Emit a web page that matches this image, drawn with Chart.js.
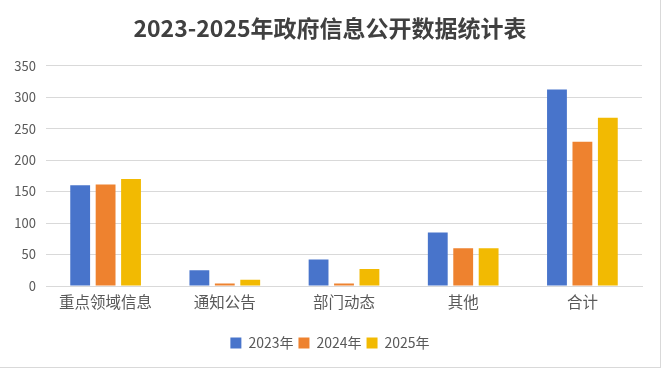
<!DOCTYPE html>
<html>
<head>
<meta charset="utf-8">
<script src="https://cdn.jsdelivr.net/npm/chart.js@4"></script>
<style>
  body { margin: 0; background: #fff; }
  #box { width: 660px; height: 367px; border-right: 1px solid #d9d9d9; border-bottom: 1px solid #d9d9d9; }
</style>
</head>
<body>
<div id="box"><canvas id="chart" width="660" height="367"></canvas></div>
<script>
// 데이터
const categories = ["重点领域信息", "通知公告", "部门动态", "其他", "合计"];
const seriesNames = ["2023年", "2024年", "2025年"];
const values2023 = [160, 25, 42, 85, 312];
const values2024 = [161, 4, 4, 60, 229];
const values2025 = [170, 10, 27, 60, 267];
const colors = ["#4874CB", "#EE822F", "#F2BA02"];

const font = "'Noto Sans CJK SC', 'Microsoft YaHei', sans-serif";

const data = {
  labels: categories,
  datasets: [values2023, values2024, values2025].map((v, i) => ({
    label: seriesNames[i],
    data: v,
    backgroundColor: colors[i],
    categoryPercentage: 0.64,
    barPercentage: 0.78,
  })),
};

const config = {
  type: "bar",
  data: data,
  options: {
    responsive: false,
    animation: false,
    layout: { padding: { left: 0, right: 0, top: 0, bottom: 7 } },
    scales: {
      x: {
        grid: { display: false, drawTicks: false },
        border: { color: "#d9d9d9" },
        ticks: { color: "#595959", font: { family: font, size: 15.5 }, padding: 7 },
        afterFit: (s) => { s.height = 45; },
      },
      y: {
        min: 0,
        max: 350,
        ticks: { stepSize: 50, color: "#595959", font: { family: font, size: 13 }, padding: 10 },
        grid: { color: "#d9d9d9", drawTicks: false },
        border: { display: false },
        afterFit: (s) => { s.width = 46; },
      },
      // 오른쪽 여백용 빈 축
      yRight: {
        position: "right",
        grid: { display: false, drawTicks: false },
        ticks: { display: false },
        border: { display: false },
        afterFit: (s) => { s.width = 18; },
      },
    },
    plugins: {
      title: {
        display: true,
        text: "2023-2025年政府信息公开数据统计表",
        color: "#404040",
        font: { family: font, size: 23, weight: "bold" },
        padding: { top: 14, bottom: 24 },
      },
      legend: {
        position: "bottom",
        labels: {
          boxWidth: 11,
          boxHeight: 11,
          color: "#595959",
          font: { family: font, size: 14 },
          padding: 5,
        },
      },
      tooltip: { enabled: false },
    },
  },
};

new Chart(document.getElementById("chart").getContext("2d"), config);
</script>
</body>
</html>
